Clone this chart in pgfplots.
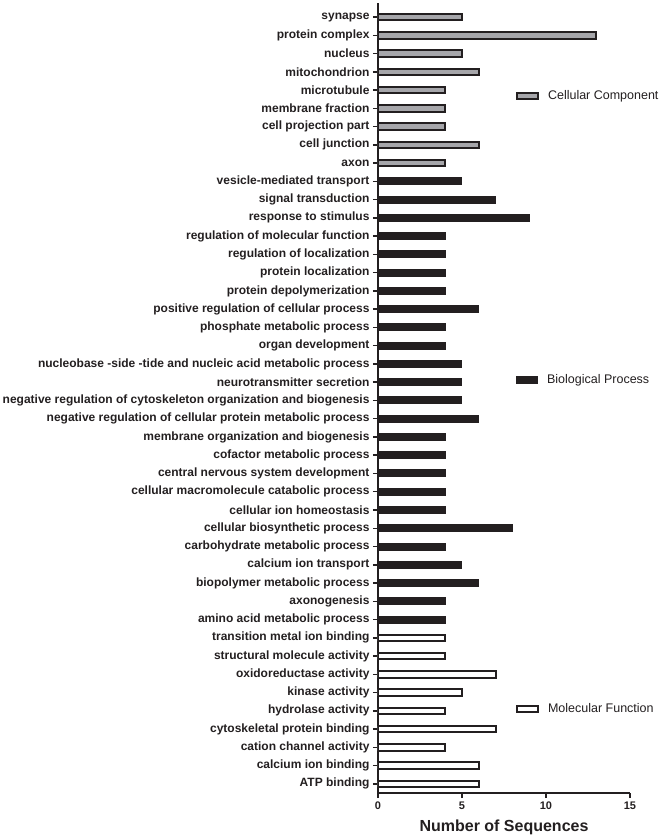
\documentclass[border=0pt]{standalone}
\usepackage{fontspec}
\setmainfont{Liberation Sans}
\usepackage{pgfplots}
\pgfplotsset{compat=1.18}
\definecolor{ccgray}{RGB}{166,166,170}
\definecolor{bpblack}{RGB}{35,31,32}
\pgfplotsset{
  common/.style={
    scale only axis, width=252pt, height=790pt,
    xmin=0, xmax=15, ymin=-0.5, ymax=42.77,
  },
  legstyle/.style={
    legend image code/.code={\draw[##1] (0pt,-3.3pt) rectangle (21pt,3.3pt);},
    legend style={draw=none, fill=none, inner sep=0pt, anchor=west,
      font=\fontsize{12.5}{14}\selectfont, text=bpblack,
      nodes={inner sep=0pt}, column sep=9pt},
  },
}
\begin{document}
\begin{tikzpicture}
\begin{axis}[common, name=main,
  axis x line*=bottom, axis y line*=left,
  axis line style={line width=1.9pt, color=bpblack},
  xtick={0,5,10,15}, ytick={0,...,42},
  tick align=outside, major tick length=5pt,
  tick style={line width=1.5pt, color=bpblack},
  /pgf/number format/assume math mode=true,
  xticklabel style={font=\bfseries\fontsize{11}{12}\selectfont, text=bpblack},
  yticklabel style={font=\bfseries\fontsize{12}{13}\selectfont, text=bpblack},
  xlabel={Number of Sequences},
  xlabel style={at={(axis description cs:0.5,0)}, anchor=base, yshift=-38.5pt,
    font=\bfseries\fontsize{16}{18}\selectfont, text=bpblack},
  yticklabels={
    {ATP binding},
    {calcium ion binding},
    {cation channel activity},
    {cytoskeletal protein binding},
    {hydrolase activity},
    {kinase activity},
    {oxidoreductase activity},
    {structural molecule activity},
    {transition metal ion binding},
    {amino acid metabolic process},
    {axonogenesis},
    {biopolymer metabolic process},
    {calcium ion transport},
    {carbohydrate metabolic process},
    {cellular biosynthetic process},
    {cellular ion homeostasis},
    {cellular macromolecule catabolic process},
    {central nervous system development},
    {cofactor metabolic process},
    {membrane organization and biogenesis},
    {negative regulation of cellular protein metabolic process},
    {negative regulation of cytoskeleton organization and biogenesis},
    {neurotransmitter secretion},
    {nucleobase -side -tide and nucleic acid metabolic process},
    {organ development},
    {phosphate metabolic process},
    {positive regulation of cellular process},
    {protein depolymerization},
    {protein localization},
    {regulation of localization},
    {regulation of molecular function},
    {response to stimulus},
    {signal transduction},
    {vesicle-mediated transport},
    {axon},
    {cell junction},
    {cell projection part},
    {membrane fraction},
    {microtubule},
    {mitochondrion},
    {nucleus},
    {protein complex},
    {synapse}},
]
% Molecular Function
\addplot[xbar, bar width=6.5pt, bar shift=0pt, fill=white, draw=bpblack, line width=1.9pt]
  coordinates {(6,0) (6,1) (4,2) (7,3) (4,4) (5,5) (7,6) (4,7) (4,8)};
% Biological Process
\addplot[xbar, bar width=7pt, bar shift=0pt, fill=bpblack, draw=bpblack, line width=1pt]
  coordinates {(4,9) (4,10) (6,11) (5,12) (4,13) (8,14) (4,15) (4,16) (4,17) (4,18)
    (4,19) (6,20) (5,21) (5,22) (5,23) (4,24) (4,25) (6,26) (4,27) (4,28) (4,29)
    (4,30) (9,31) (7,32) (5,33)};
% Cellular Component
\addplot[xbar, bar width=6.5pt, bar shift=0pt, fill=ccgray, draw=bpblack, line width=1.9pt]
  coordinates {(4,34) (6,35) (4,36) (4,37) (4,38) (6,39) (5,40) (13,41) (5,42)};
\end{axis}
\begin{axis}[common, hide axis, legstyle, legend style={at={(axis cs:8.21,37.67)}}]
\addlegendimage{fill=ccgray, draw=bpblack, line width=1.9pt}
\addlegendentry{Cellular Component}
\end{axis}
\begin{axis}[common, hide axis, legstyle, legend style={at={(axis cs:8.21,22.12)}}]
\addlegendimage{fill=bpblack, draw=bpblack, line width=1pt}
\addlegendentry{Biological Process}
\end{axis}
\begin{axis}[common, hide axis, legstyle, legend style={at={(axis cs:8.21,4.1)}}]
\addlegendimage{fill=white, draw=bpblack, line width=1.9pt}
\addlegendentry{Molecular Function}
\end{axis}
\pgfresetboundingbox
\path[use as bounding box] ([xshift=-378pt,yshift=-44pt]main.south west) rectangle ([xshift=283pt,yshift=793pt]main.south west);
\end{tikzpicture}
\end{document}
